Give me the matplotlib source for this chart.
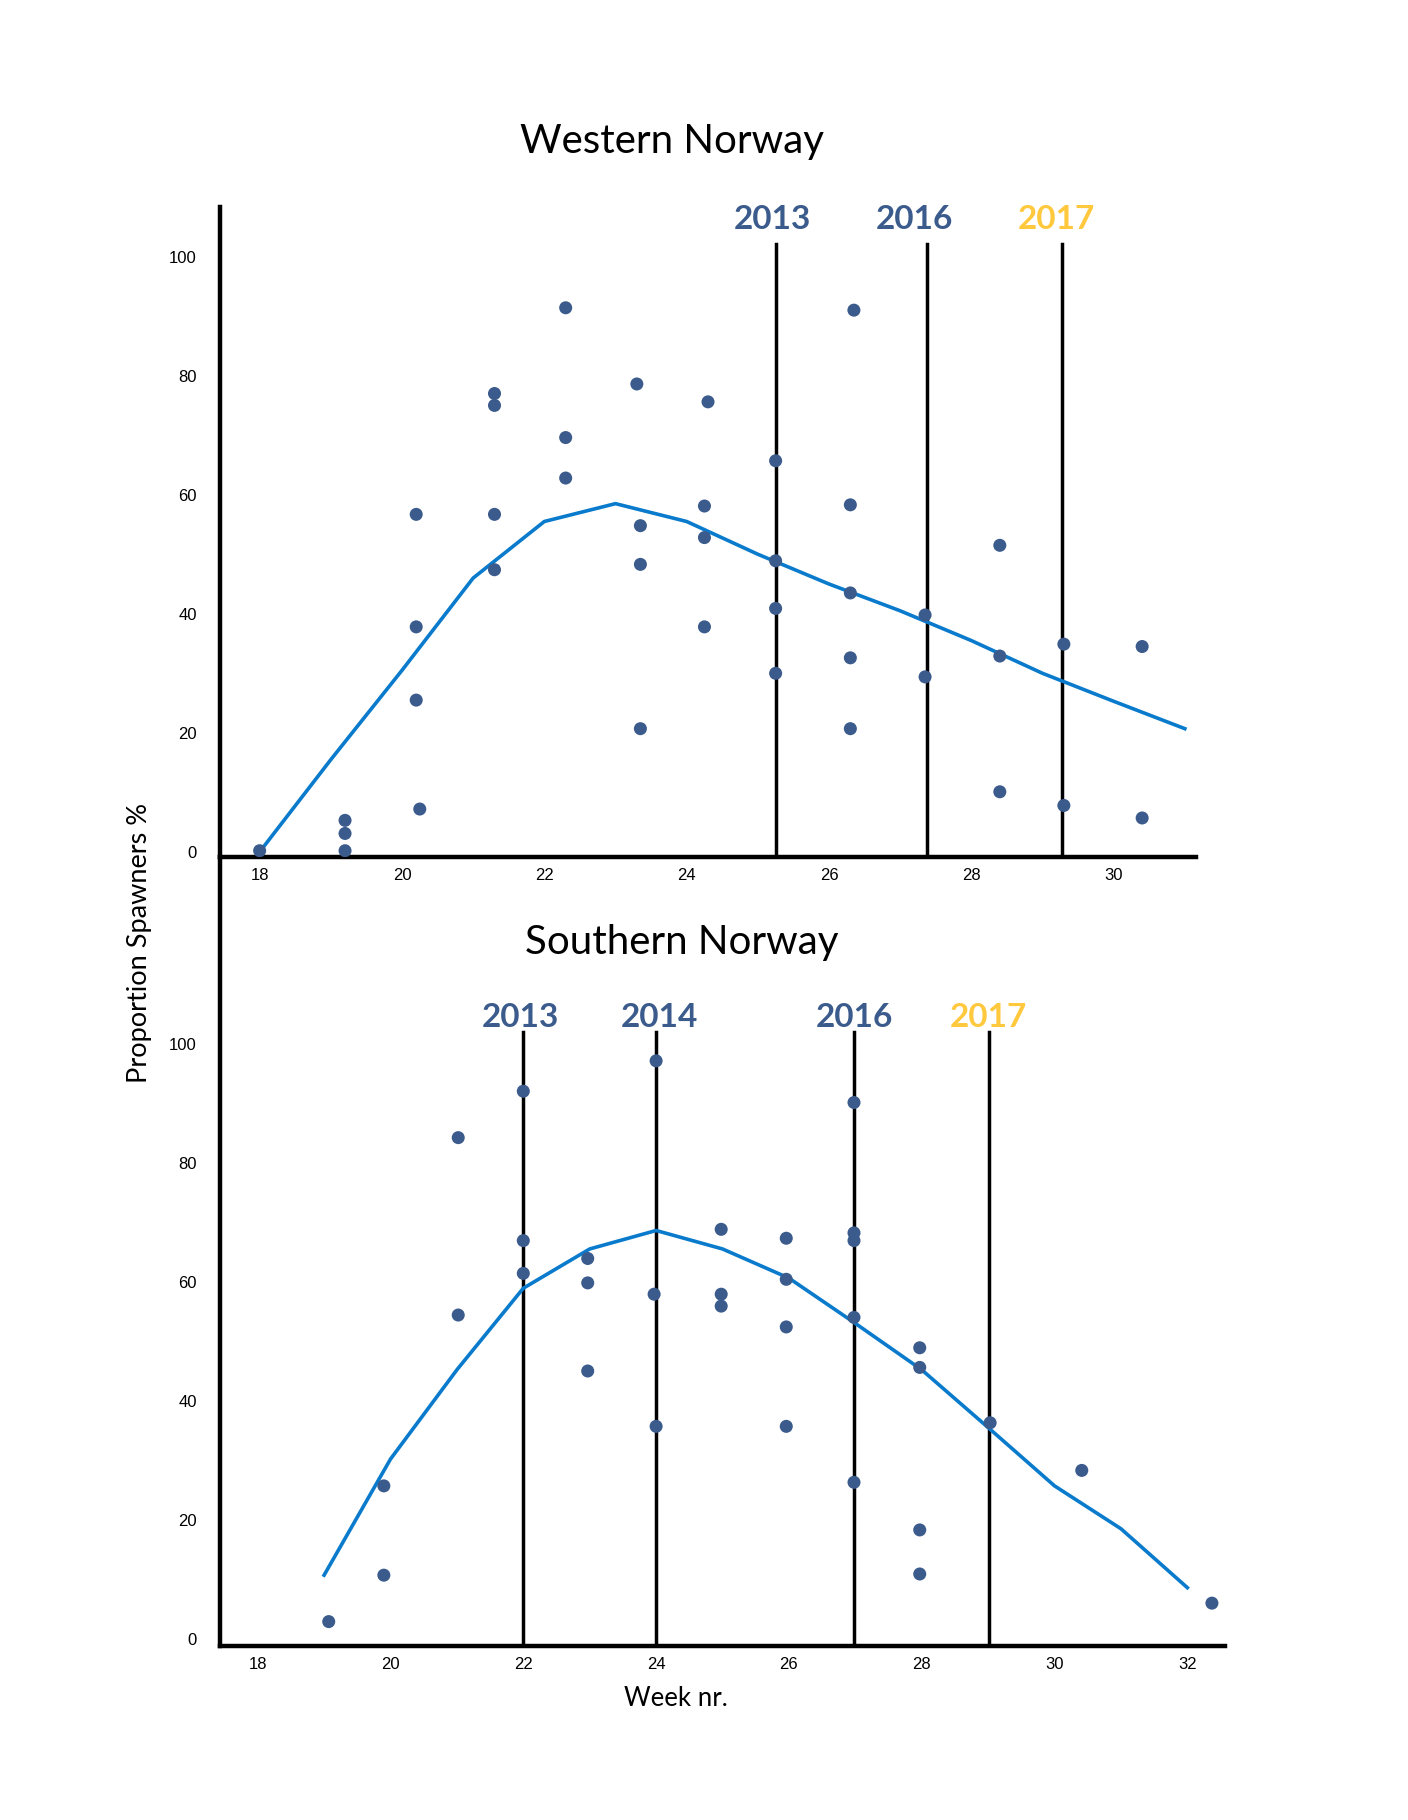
import matplotlib
matplotlib.use('Agg')
import matplotlib.pyplot as plt

# Western Norway
west_x = [18.0, 19.2, 19.2, 19.2, 20.2, 20.2, 20.2, 20.25,
          21.3, 21.3, 21.3, 21.3, 22.3, 22.3, 22.3,
          23.3, 23.35, 23.35, 23.35, 24.3, 24.25, 24.25, 24.25,
          25.25, 25.25, 25.25, 25.25, 26.35, 26.3, 26.3, 26.3, 26.3,
          27.35, 27.35, 28.4, 28.4, 28.4, 29.3, 29.3, 30.4, 30.4]
west_y = [0.2, 5.3, 3.1, 0.2, 56.7, 37.8, 25.5, 7.2,
          77.0, 75.0, 56.7, 47.4, 91.4, 69.6, 62.8,
          78.6, 54.8, 48.3, 20.7, 75.6, 58.1, 52.8, 37.8,
          65.7, 48.9, 40.9, 30.0, 91.0, 58.3, 43.5, 32.6, 20.7,
          39.8, 29.4, 51.5, 32.9, 10.1, 34.9, 7.8, 34.5, 5.7]
west_fit_x = [18, 19, 20, 21, 22, 23, 24, 25, 26, 27, 28, 29, 30, 31]
west_fit_y = [0, 15.5, 30.5, 46, 55.5, 58.5, 55.5, 50, 45, 40.5, 35.5, 30, 25.3, 20.7]
west_years = ['2013', '2016', '2017']
west_year_x = [25.25, 27.38, 29.28]
west_label_x = [25.21, 27.2, 29.2]

# Southern Norway
south_x = [19.07, 19.9, 19.9, 21.02, 21.02, 22.0, 22.0, 22.0,
           22.97, 22.97, 22.97, 24.0, 23.97, 24.0, 24.98, 24.98, 24.98,
           25.96, 25.96, 25.96, 25.96, 26.98, 26.98, 26.98, 26.98, 26.98,
           27.97, 27.97, 27.97, 27.97, 29.03, 30.41, 32.37]
south_y = [2.9, 25.7, 10.7, 84.2, 54.4, 92.0, 66.9, 61.4,
           63.9, 59.8, 45.0, 97.1, 57.9, 35.7, 68.8, 57.9, 55.9,
           67.3, 60.4, 52.4, 35.7, 90.1, 68.2, 66.9, 54.0, 26.3,
           48.9, 45.6, 18.3, 10.9, 36.3, 28.3, 6.0]
south_fit_x = [19, 20, 21, 22, 23, 24, 25, 26, 27, 28, 29, 30, 31, 32]
south_fit_y = [10.7, 30.2, 45.2, 58.9, 65.5, 68.6, 65.5, 60.6, 53, 45.2, 35.5, 25.7, 18.5, 8.6]
south_years = ['2013', '2014', '2016', '2017']
south_year_x = [22.0, 24.0, 26.98, 29.02]
south_label_x = [21.95, 24.05, 26.99, 29.0]

year_colors = {'2013': '#3b5b8c', '2014': '#3b5b8c', '2016': '#3b5b8c', '2017': '#ffc83d'}
dot_color = '#3b5b8c'
line_color = '#0a7bcc'

fig = plt.figure(figsize=(14.08, 18.20), dpi=100)
ax2 = fig.add_axes([0.1566, 0.0956, 0.7131, 0.4337])
ax1 = fig.add_axes([0.1566, 0.5293, 0.6925, 0.3572])
ax1.patch.set_visible(False)
ax2.patch.set_visible(False)


def style(ax, xlim, ylim, xticks):
    ax.set_xlim(*xlim)
    ax.set_ylim(*ylim)
    for s in ['top', 'right']:
        ax.spines[s].set_visible(False)
    for s in ['left', 'bottom']:
        ax.spines[s].set_linewidth(3.2)
    ax.set_xticks(xticks)
    ax.set_yticks([0, 20, 40, 60, 80, 100])
    ax.tick_params(length=0, labelsize=12)
    ax.tick_params(axis='y', pad=17)
    ax.tick_params(axis='x', pad=8)
    for lab in ax.get_xticklabels() + ax.get_yticklabels():
        lab.set_fontfamily('Liberation Sans')


style(ax1, (17.45, 31.15), (-0.8, 108.4), range(18, 31, 2))
style(ax2, (17.44, 32.56), (-1.2, 131.4), range(18, 33, 2))

for ax, xs, ys, fx, fy, yrs, yx, lx, top, ly in [
        (ax1, west_x, west_y, west_fit_x, west_fit_y, west_years, west_year_x, west_label_x, 102.1, 106.2),
        (ax2, south_x, south_y, south_fit_x, south_fit_y, south_years, south_year_x, south_label_x, 102.0, 104.3)]:
    for yr, x, lxx in zip(yrs, yx, lx):
        ax.plot([x, x], [ax.get_ylim()[0], top], color='black', lw=2.5, zorder=2)
        ax.text(lxx, ly, yr, ha='center', va='center', fontsize=24,
                fontweight='bold', family='Lato', color=year_colors[yr])
    ax.plot(fx, fy, color=line_color, lw=2.6, zorder=3)
    ax.scatter(xs, ys, s=88, color=dot_color, zorder=4, edgecolors='none')

fig.text(0.477, 1 - 141 / 1820, 'Western Norway', ha='center', va='center',
         fontsize=29, family='Lato')
fig.text(0.484, 1 - 942 / 1820, 'Southern Norway', ha='center', va='center',
         fontsize=29, family='Lato')
fig.text(139 / 1408, 1 - 943 / 1820, 'Proportion Spawners %', rotation=90,
         ha='center', va='center', fontsize=19.5, family='Lato')
fig.text(676 / 1408, 1 - 1698 / 1820, 'Week nr.', ha='center', va='center',
         fontsize=18.5, family='Lato')

fig.savefig('out.png', dpi=100, facecolor='white')
